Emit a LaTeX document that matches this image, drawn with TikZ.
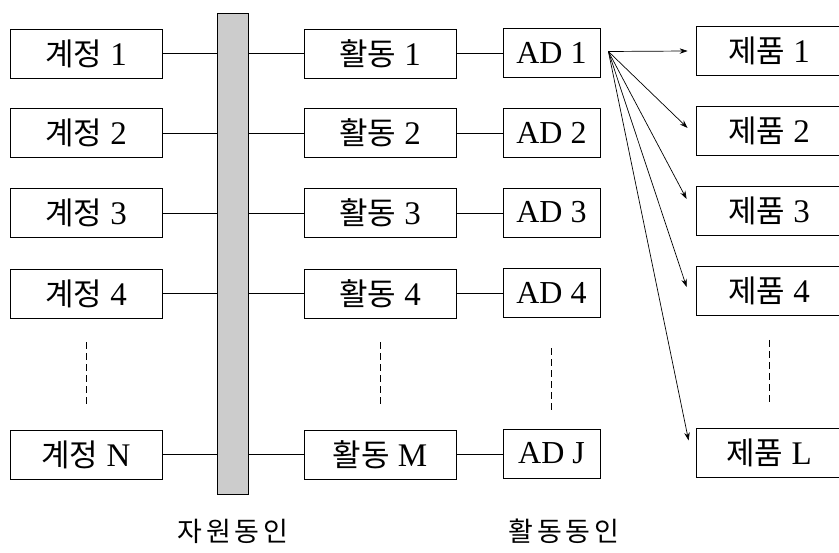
\documentclass[tikz,border=0pt]{standalone}
\usepackage{fontspec}
\usepackage{graphicx}
\setmainfont{Liberation Serif}
\newfontfamily\kr{Noto Sans CJK KR}
\usetikzlibrary{arrows.meta}
\newcommand{\K}[1]{{\kr\fontsize{31}{36}\selectfont #1}}
\tikzset{
  box/.style={draw=black, line width=0.8pt, minimum height=49pt, inner sep=0pt,
    font=\fontsize{33}{38}\selectfont, anchor=center},
  acct/.style={box, minimum width=152pt},
  actv/.style={box, minimum width=152pt},
  adbox/.style={box, minimum width=97pt, font=\fontsize{32}{37}\selectfont},
  prod/.style={box, minimum width=146pt},
  link/.style={draw=black, line width=0.8pt},
  arr/.style={draw=black, line width=0.7pt, -{Stealth[length=8pt,width=5.5pt]}},
  dsh/.style={draw=black, line width=0.7pt, dash pattern=on 7pt off 4pt},
  lbl/.style={font=\kr\fontsize{27}{30}\selectfont, inner sep=0pt}
}
\begin{document}
\begin{tikzpicture}[x=1pt,y=-1pt]
\clip (0,0) rectangle (839,553);
\fill[white] (0,0) rectangle (839,553);
% bar
\node[draw=black, line width=0.8pt, fill=black!20, minimum width=31pt, minimum height=481pt, inner sep=0pt] (bar) at (232.5,253.5) {};
% accounts
\node[acct] (a1) at (86,53.5) {\K{계정}~1};
\node[acct] (a2) at (86,133) {\K{계정}~2};
\node[acct] (a3) at (86,213) {\K{계정}~3};
\node[acct] (a4) at (86,293.5) {\K{계정}~4};
\node[acct] (aN) at (86,454.5) {\K{계정}~N};
% activities
\node[actv] (b1) at (380,53.5) {\K{활동}~1};
\node[actv] (b2) at (380,133) {\K{활동}~2};
\node[actv] (b3) at (380,213) {\K{활동}~3};
\node[actv] (b4) at (380,293.5) {\K{활동}~4};
\node[actv] (bM) at (380,454.5) {\K{활동}~M};
% activity drivers
\node[adbox] (d1) at (551.5,52.5) {AD 1};
\node[adbox] (d2) at (551.5,132.5) {AD 2};
\node[adbox] (d3) at (551.5,212.5) {AD 3};
\node[adbox] (d4) at (551.5,292.5) {AD 4};
\node[adbox] (dJ) at (551.5,453.5) {AD J};
% products
\node[prod] (p1) at (769,51) {\K{제품}~1};
\node[prod] (p2) at (769,131) {\K{제품}~2};
\node[prod] (p3) at (769,211) {\K{제품}~3};
\node[prod] (p4) at (769,291) {\K{제품}~4};
\node[prod] (pL) at (769,452.5) {\K{제품}~L};
% links account -> bar -> activity -> AD
\foreach \i in {1,2,3,4,N} {
  \draw[link] (a\i.east) -- (a\i.east -| bar.west);
}
\foreach \i/\j in {1/1,2/2,3/3,4/4,N/M} {
  \draw[link] (bar.east |- b\j.west) -- (b\j.west);
}
\foreach \j/\k in {1/1,2/2,3/3,4/4,M/J} {
  \draw[link] (b\j.east) -- (d\k.west |- b\j.east);
}
% arrows from AD 1
\coordinate (src) at ([xshift=8pt,yshift=1pt]d1.east);
\coordinate (t1) at ([xshift=-8pt]p1.west);
\coordinate (t2) at ([xshift=-8pt,yshift=3pt]p2.west);
\coordinate (t3) at ([xshift=-9pt,yshift=12pt]p3.west);
\coordinate (t4) at ([xshift=-9pt,yshift=4pt]p4.west);
\coordinate (tL) at ([xshift=-7pt,yshift=12pt]pL.west);
\foreach \t in {t1,t2,t3,t4,tL} {
  \draw[arr] (src) -- (\t);
}
% ellipsis dashed lines
\draw[dsh] ([yshift=-24pt]a4.south) -- ([yshift=25pt]aN.north);
\draw[dsh] ([yshift=-24pt]b4.south) -- ([yshift=25pt]bM.north);
\draw[dsh] ([yshift=-31pt]d4.south) -- ([yshift=19pt]dJ.north);
\draw[dsh] ([yshift=-24pt]p4.south) -- ([yshift=25pt]pL.north);
% labels
\node[lbl] (l1) at (233,531.5) {자\hspace{4pt}원\hspace{4pt}동\hspace{4pt}인};
\node[lbl] (l2) at (564,531.5) {활\hspace{4pt}동\hspace{4pt}동\hspace{4pt}인};
\end{tikzpicture}
\end{document}
